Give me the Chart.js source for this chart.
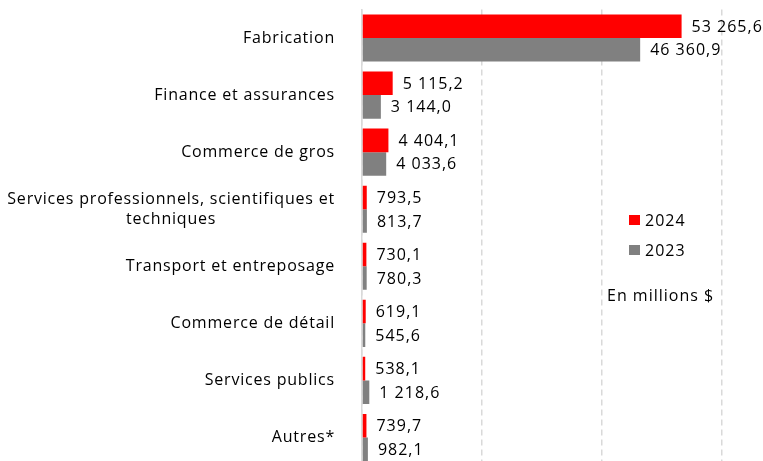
<!DOCTYPE html>
<html>
<head>
<meta charset="utf-8">
<script src="https://cdn.jsdelivr.net/npm/chart.js@4.4.1/dist/chart.umd.min.js"></script>
<style>
  html, body { margin: 0; padding: 0; background: #fff; overflow: hidden; }
  #wrap { width: 763px; height: 466px; position: relative; }
</style>
</head>
<body>
<div id="wrap"><canvas id="chart"></canvas></div>
<script>
// categories and values (millions $)
var categories = [
    "Fabrication",
    "Finance et assurances",
    "Commerce de gros",
    ["Services professionnels, scientifiques et", "techniques"],
    "Transport et entreposage",
    "Commerce de détail",
    "Services publics",
    "Autres*"
];
var values2024 = [53265.6, 5115.2, 4404.1, 793.5, 730.1, 619.1, 538.1, 739.7];
var values2023 = [46360.9, 3144.0, 4033.6, 813.7, 780.3, 545.6, 1218.6, 982.1];
var seriesLabels = ["2024", "2023"];
var seriesColors = ["#ff0000", "#808080"];
var unitNote = "En millions $";

const FONT = "16px 'Open Sans', sans-serif";

/**
 * @brief formats number french style: 53 265,6
 */
function formatFr(v) {
    let parts = v.toFixed(1).split(".");
    let intPart = parts[0].replace(/\B(?=(\d{3})+(?!\d))/g, " ");
    return intPart + "," + parts[1];
}

function setFont(ctx, spacing) {
    ctx.font = FONT;
    ctx.letterSpacing = spacing;
    ctx.fillStyle = "#000";
    ctx.textBaseline = "middle";
}

// draws category names left of the y axis, lines centered inside the block
const categoryLabels = {
    id: "categoryLabels",
    afterDraw(chart) {
        const ctx = chart.ctx;
        const yScale = chart.scales.y;
        const right = 335;
        const lineH = 20;
        ctx.save();
        setFont(ctx, "0.8px");
        ctx.textAlign = "left";
        categories.forEach((cat, i) => {
            let lines = Array.isArray(cat) ? cat : [cat];
            let widths = lines.map(l => ctx.measureText(l).width);
            let w = Math.max(...widths);
            let y0 = yScale.getPixelForValue(i) - (lines.length - 1) * lineH / 2;
            lines.forEach((l, k) => {
                ctx.fillText(l, right - w + (w - widths[k]) / 2, y0 + k * lineH);
            });
        });
        ctx.restore();
    }
};

// value labels at the end of every bar
const valueLabels = {
    id: "valueLabels",
    afterDatasetsDraw(chart) {
        const ctx = chart.ctx;
        ctx.save();
        setFont(ctx, "1px");
        ctx.textAlign = "left";
        chart.data.datasets.forEach((ds, d) => {
            chart.getDatasetMeta(d).data.forEach((bar, i) => {
                ctx.fillText(formatFr(ds.data[i]), bar.x + 10, bar.y + 1);
            });
        });
        ctx.restore();
    }
};

// legend in the middle of the plot plus unit note
const sideLegend = {
    id: "sideLegend",
    afterDraw(chart) {
        const ctx = chart.ctx;
        ctx.save();
        setFont(ctx, "1px");
        ctx.textAlign = "left";
        chart.data.datasets.forEach((ds, d) => {
            let y = 220 + d * 30;
            ctx.fillStyle = ds.backgroundColor;
            ctx.fillRect(629, y - 5, 11, 10);
            ctx.fillStyle = "#000";
            ctx.fillText(ds.label, 645, y + 1);
        });
        ctx.fillText(unitNote, 607, 296);
        ctx.restore();
    }
};

new Chart(document.getElementById("chart"), {
    type: "bar",
    data: {
        labels: categories,
        datasets: [
            { label: seriesLabels[0], data: values2024, backgroundColor: seriesColors[0] },
            { label: seriesLabels[1], data: values2023, backgroundColor: seriesColors[1] }
        ]
    },
    options: {
        indexAxis: "y",
        responsive: true,
        maintainAspectRatio: false,
        animation: false,
        datasets: {
            bar: { categoryPercentage: 0.825, barPercentage: 1.0 }
        },
        layout: { padding: { left: 362, right: 41, top: 9.5, bottom: 0 } },
        plugins: {
            legend: { display: false },
            tooltip: { enabled: false }
        },
        scales: {
            x: {
                min: 0,
                max: 60000,
                ticks: { display: false, stepSize: 20000 },
                grid: { color: "#d9d9d9", lineWidth: 1.5, drawTicks: false },
                border: { display: false, dash: [6, 4] }
            },
            y: {
                ticks: { display: false },
                grid: { display: false, drawTicks: false },
                border: { display: true, color: "#d9d9d9", width: 1.5 }
            }
        }
    },
    plugins: [categoryLabels, valueLabels, sideLegend]
});
</script>
</body>
</html>
